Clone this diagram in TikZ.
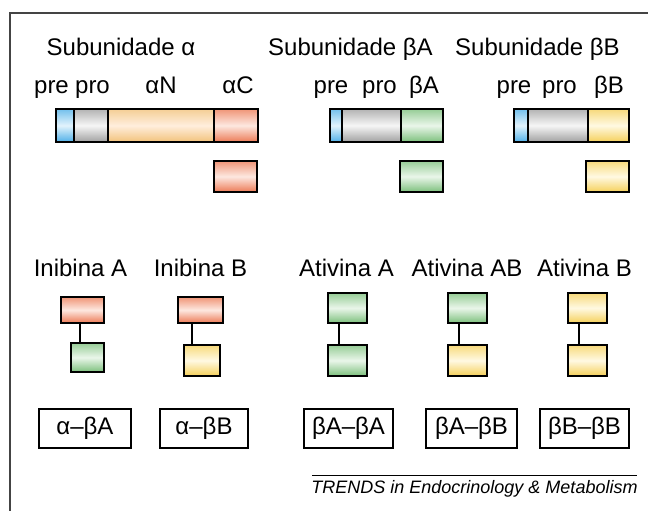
\documentclass[tikz,border=0pt]{standalone}
\usepackage{fontspec}
\setmainfont{Liberation Sans}
\definecolor{blueE}{HTML}{4FB0E8}\definecolor{blueM}{HTML}{E2F3FC}
\definecolor{grayE}{HTML}{A0A0A0}\definecolor{grayM}{HTML}{F6F6F6}
\definecolor{orgE}{HTML}{F2C27A}\definecolor{orgM}{HTML}{FFEEDD}
\definecolor{redE}{HTML}{EC7A55}\definecolor{redM}{HTML}{FDE8E0}
\definecolor{grnE}{HTML}{7CC07C}\definecolor{grnM}{HTML}{EAF6EA}
\definecolor{ylwE}{HTML}{F5D05A}\definecolor{ylwM}{HTML}{FFF9E2}
\definecolor{frame}{HTML}{444444}
\begin{document}
\begin{tikzpicture}[x=1pt,y=-1pt,
  box/.style={draw=black, line width=1.3pt, inner sep=0pt, outer sep=0pt, rectangle},
  sh/.style={top color=#1E!80!white, bottom color=#1E, middle color=#1M},
  txt/.style={font=\fontsize{24}{28}\selectfont, inner sep=0pt, anchor=base},
  lbl/.style={draw=black, line width=1.3pt, inner sep=0pt, rectangle, minimum height=39pt, font=\fontsize{24}{28}\selectfont},
  link/.style={draw=black, line width=1.5pt}]
\useasboundingbox (0,0) rectangle (648,511);
% frame
\draw[frame, line width=1.6pt] (10,511) -- (10,13) -- (648,13);
% headings
\node[txt] (h1) at (121,56) {Subunidade α};
\node[txt] (h2) at (350.5,56) {Subunidade βA};
\node[txt] (h3) at (537.5,56) {Subunidade βB};
% segment labels
\node[txt] (l1) at (51.5,93) {pre};
\node[txt] (l2) at (92.5,93) {pro};
\node[txt] (l3) at (161,93) {αN};
\node[txt] (l4) at (238,93) {αC};
\node[txt] (l5) at (331,93) {pre};
\node[txt] (l6) at (379.5,93) {pro};
\node[txt] (l7) at (424,93) {βA};
\node[txt] (l8) at (514,93) {pre};
\node[txt] (l9) at (559.5,93) {pro};
\node[txt] (l10) at (609,93) {βB};
% alpha bar
\node[box, sh=blue, minimum width=18pt, minimum height=33pt] (a1) at (65,125.5) {};
\node[box, sh=gray, minimum width=34pt, minimum height=33pt] (a2) at (91,125.5) {};
\node[box, sh=org, minimum width=106pt, minimum height=33pt] (a3) at (161,125.5) {};
\node[box, sh=red, minimum width=44pt, minimum height=33pt] (a4) at (236,125.5) {};
\node[box, sh=red, minimum width=43pt, minimum height=31pt] (a5) at (235.5,176.5) {};
% beta A bar
\node[box, sh=blue, minimum width=12pt, minimum height=33pt] (b1) at (336,125.5) {};
\node[box, sh=gray, minimum width=59pt, minimum height=33pt] (b2) at (371.5,125.5) {};
\node[box, sh=grn, minimum width=42pt, minimum height=33pt] (b3) at (422,125.5) {};
\node[box, sh=grn, minimum width=43pt, minimum height=31pt] (b4) at (421.5,176.5) {};
% beta B bar
\node[box, sh=blue, minimum width=14pt, minimum height=33pt] (c1) at (521,125.5) {};
\node[box, sh=gray, minimum width=60pt, minimum height=33pt] (c2) at (558,125.5) {};
\node[box, sh=ylw, minimum width=41pt, minimum height=33pt] (c3) at (608.5,125.5) {};
\node[box, sh=ylw, minimum width=43pt, minimum height=31pt] (c4) at (607.5,176.5) {};
% dimer titles
\node[txt] (t1) at (80.5,276) {Inibina A};
\node[txt] (t2) at (200.5,276) {Inibina B};
\node[txt] (t3) at (346.5,276) {Ativina A};
\node[txt] (t4) at (467,276) {Ativina AB};
\node[txt] (t5) at (584.5,276) {Ativina B};
% dimers
\node[box, sh=red, minimum width=43pt, minimum height=26pt] (ia1) at (82.5,310) {};
\node[box, sh=grn, minimum width=33pt, minimum height=29pt] (ia2) at (87.5,357.5) {};
\node[box, sh=red, minimum width=45pt, minimum height=26pt] (ib1) at (200.5,310) {};
\node[box, sh=ylw, minimum width=36pt, minimum height=31pt] (ib2) at (202,360.5) {};
\node[box, sh=grn, minimum width=39pt, minimum height=30pt] (aa1) at (347.5,308) {};
\node[box, sh=grn, minimum width=39pt, minimum height=31pt] (aa2) at (347.5,360.5) {};
\node[box, sh=grn, minimum width=39pt, minimum height=30pt] (ab1) at (467.5,308) {};
\node[box, sh=ylw, minimum width=39pt, minimum height=31pt] (ab2) at (467.5,360.5) {};
\node[box, sh=ylw, minimum width=39pt, minimum height=30pt] (bb1) at (587.5,308) {};
\node[box, sh=ylw, minimum width=39pt, minimum height=31pt] (bb2) at (587.5,360.5) {};
\coordinate (xia) at (80,0);
\coordinate (xib) at (192,0);
\coordinate (xaa) at (339,0);
\coordinate (xab) at (459,0);
\coordinate (xbb) at (579,0);
\draw[link] (ia1.south -| xia) -- (ia2.north -| xia);
\draw[link] (ib1.south -| xib) -- (ib2.north -| xib);
\draw[link] (aa1.south -| xaa) -- (aa2.north -| xaa);
\draw[link] (ab1.south -| xab) -- (ab2.north -| xab);
\draw[link] (bb1.south -| xbb) -- (bb2.north -| xbb);
% label boxes
\node[lbl, minimum width=92pt] (k1) at (85,428.5) {α–βA};
\node[lbl, minimum width=88pt] (k2) at (204,428.5) {α–βB};
\node[lbl, minimum width=89pt] (k3) at (348.5,428.5) {βA–βA};
\node[lbl, minimum width=91pt] (k4) at (471.5,428.5) {βA–βB};
\node[lbl, minimum width=89pt] (k5) at (584.5,428.5) {βB–βB};
% footer
\coordinate (f1) at (312,475);
\coordinate (f2) at (637,475);
\draw[line width=1pt] (f1) -- (f2);
\node[inner sep=0pt, anchor=base, font=\fontsize{18}{20}\selectfont\itshape] (ft) at (474.5,493) {TRENDS in Endocrinology \& Metabolism};
\end{tikzpicture}
\end{document}
